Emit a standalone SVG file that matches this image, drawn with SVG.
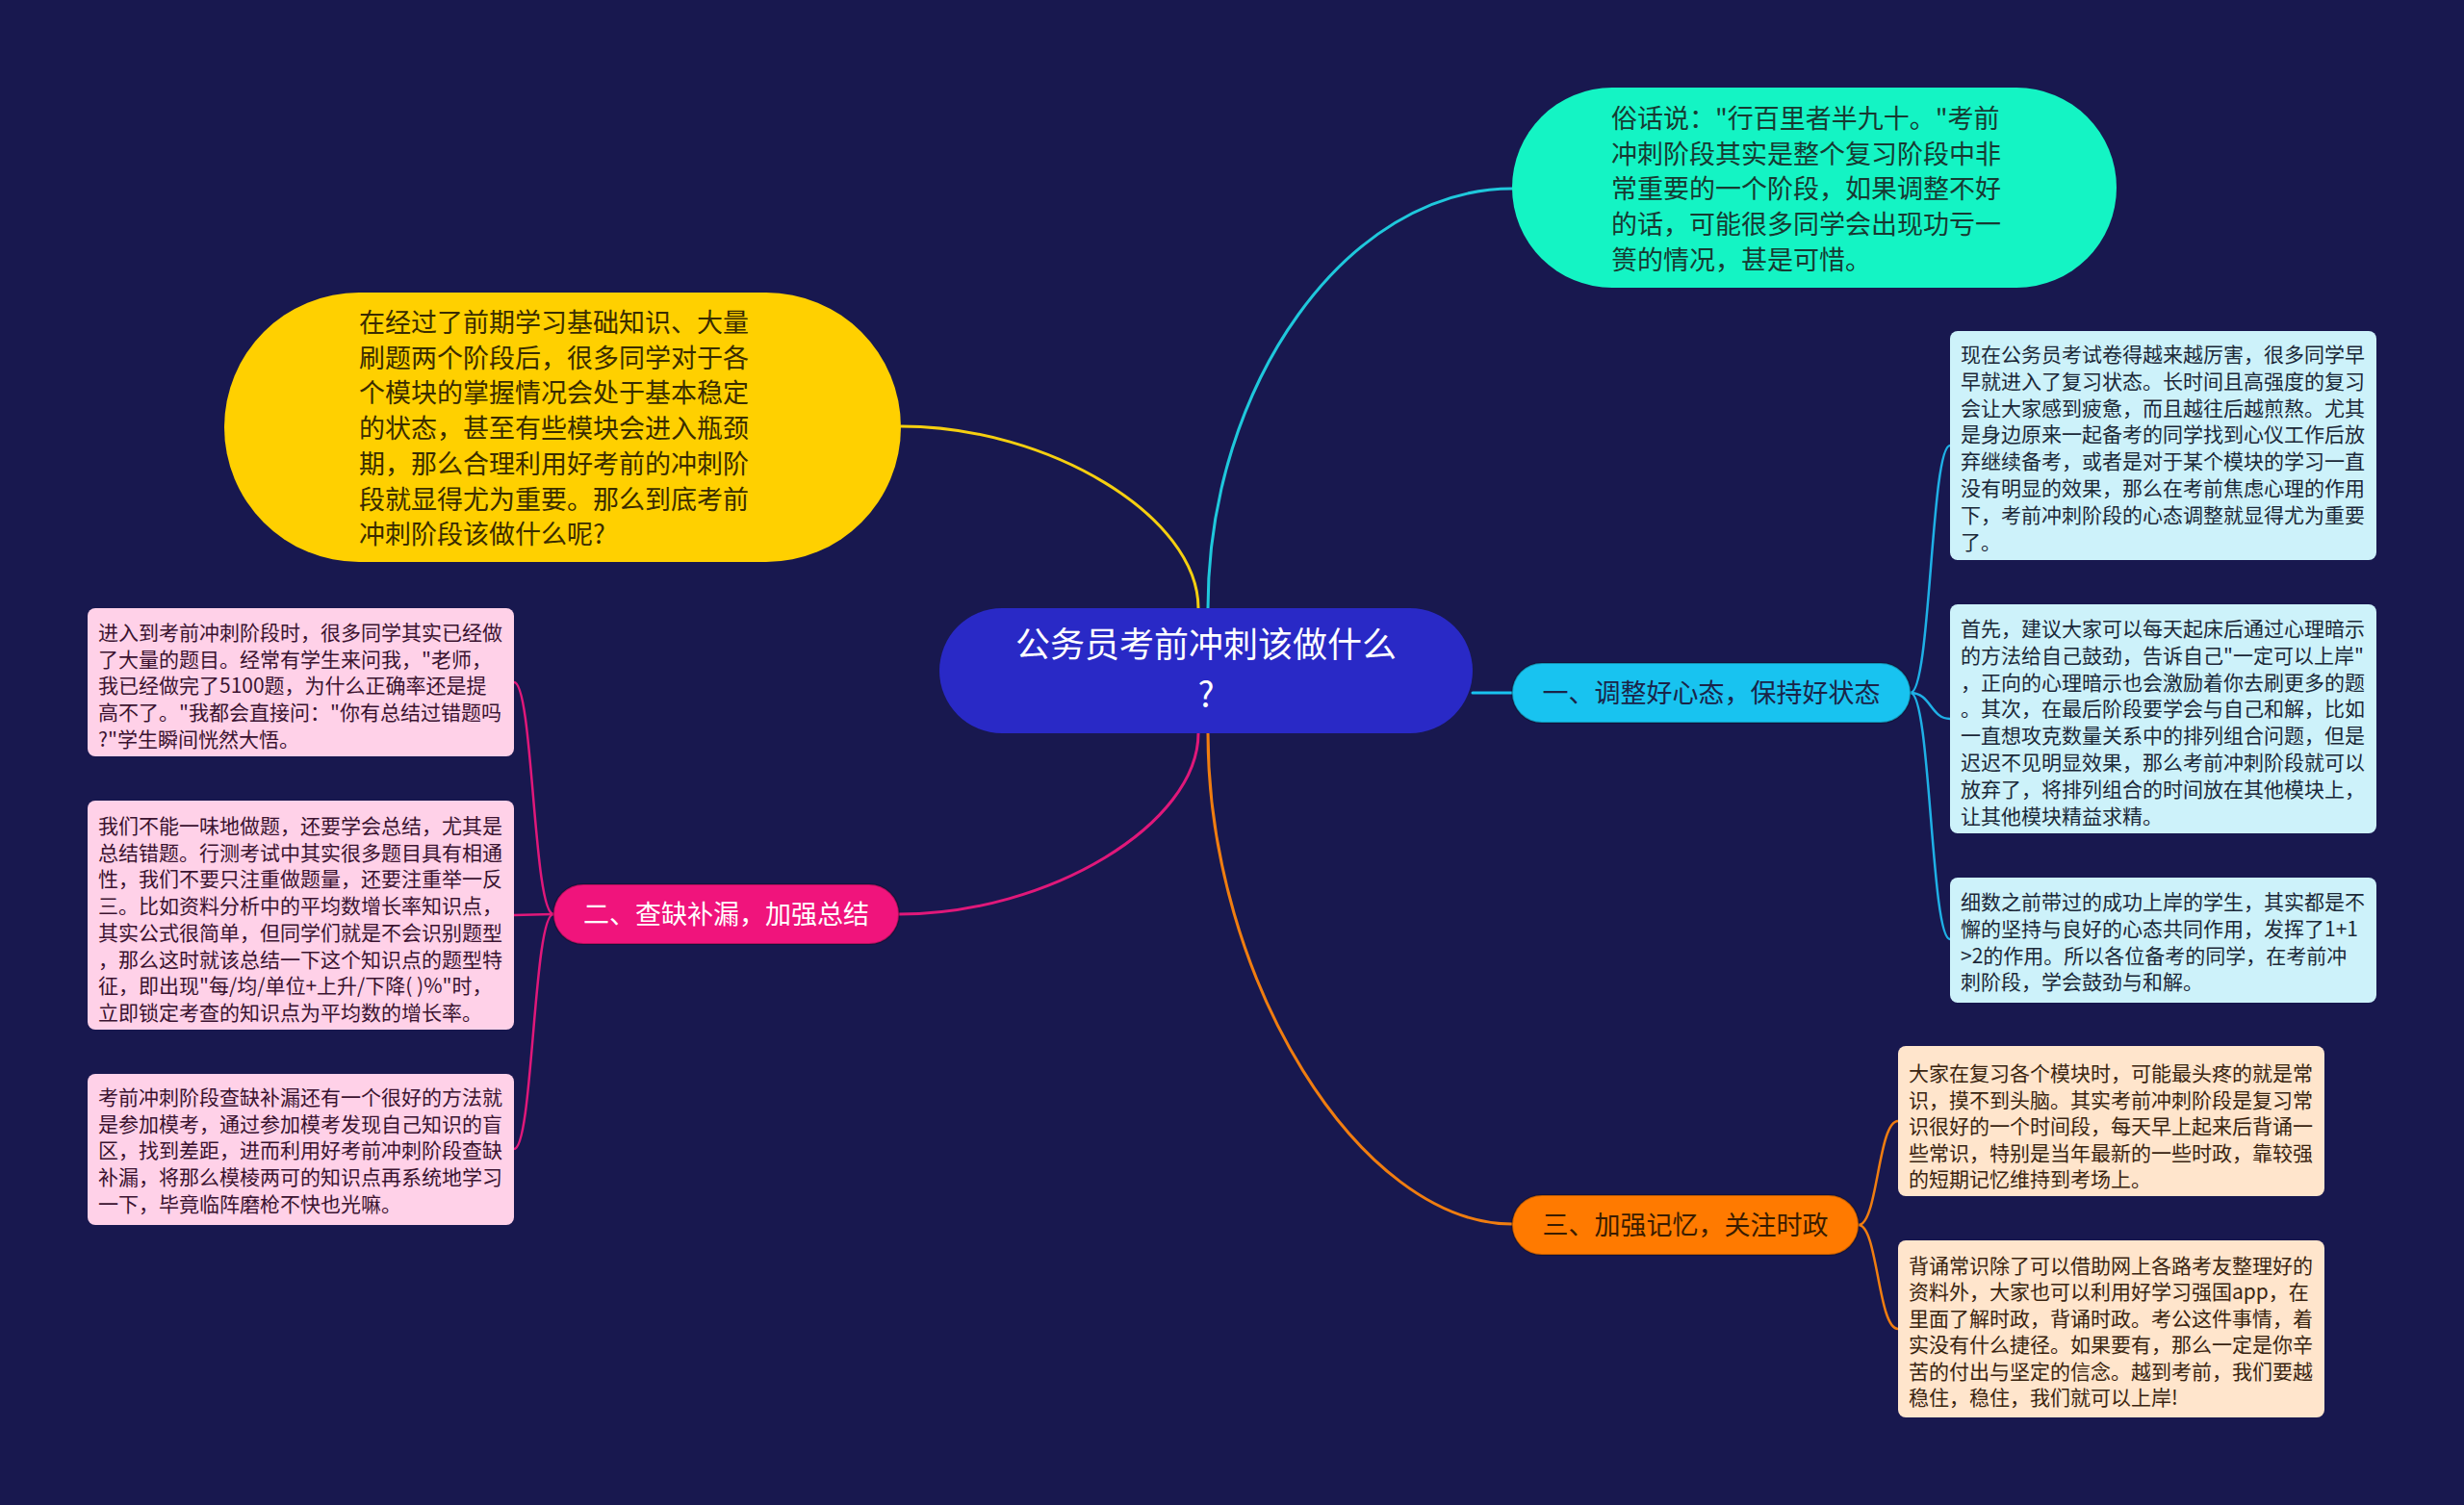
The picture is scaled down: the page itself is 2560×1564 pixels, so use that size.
<svg xmlns="http://www.w3.org/2000/svg" width="2560" height="1564" viewBox="0 0 2560 1564">
<style>
text{font-family:"Noto Sans CJK SC","Noto Sans",sans-serif;}
.conn{fill:none;stroke-linecap:round;}
.t27{font-size:27px;}
.t21{font-size:21px;}
.t36{font-size:36px;}
.lvl1{stroke:rgba(0,0,0,0.25);stroke-width:2;}
</style>
<rect x="0" y="0" width="2560" height="1564" fill="#18184f"/>
<g id="connectors">
  <path class="conn" d="M1245 632 C1245 537 1090 443 936 443" stroke="#f5cf10" stroke-width="3"/>
  <path class="conn" d="M1255 632 C1255 400 1400 196 1571 196" stroke="#1fc8dc" stroke-width="3"/>
  <path class="conn" d="M1530 720 L1571 720" stroke="#18c3f0" stroke-width="3"/>
  <path class="conn" d="M1245 762 C1245 856 1090 950 934 950" stroke="#e0187a" stroke-width="3"/>
  <path class="conn" d="M1255 762 C1255 1017 1413 1272 1571 1272" stroke="#f07d10" stroke-width="3"/>
  <path class="conn" d="M1985 720 C2006 720 2006 463 2026 463" stroke="#1fb0e6" stroke-width="2.5"/>
  <path class="conn" d="M1985 720 C2006 720 2006 747 2026 747" stroke="#1fb0e6" stroke-width="2.5"/>
  <path class="conn" d="M1985 720 C2006 720 2006 976 2026 976" stroke="#1fb0e6" stroke-width="2.5"/>
  <path class="conn" d="M575 950 C554 950 554 709 534 709" stroke="#e0187a" stroke-width="2.5"/>
  <path class="conn" d="M575 950 C554 950 554 951 534 951" stroke="#e0187a" stroke-width="2.5"/>
  <path class="conn" d="M575 950 C554 950 554 1194 534 1194" stroke="#e0187a" stroke-width="2.5"/>
  <path class="conn" d="M1931 1273 C1951 1273 1951 1165 1972 1165" stroke="#f07d10" stroke-width="2.5"/>
  <path class="conn" d="M1931 1273 C1951 1273 1951 1381 1972 1381" stroke="#f07d10" stroke-width="2.5"/>
</g>
<g id="root">
  <rect x="976" y="632" width="554" height="130" rx="65" fill="#2929c6"/>
  <text class="t36" fill="#ffffff" text-anchor="middle" x="1253" y="683">公务员考前冲刺该做什么</text>
  <text class="t36" fill="#ffffff" text-anchor="middle" x="1253" y="735">?</text>
</g>
<g id="intro-right">
  <rect x="1571" y="91" width="628" height="208" rx="104" fill="#14f4c4"/>
  <text class="t27" fill="#173a32"><tspan x="1674" y="133">俗话说："行百里者半九十。"考前</tspan><tspan x="1674" y="169.7">冲刺阶段其实是整个复习阶段中非</tspan><tspan x="1674" y="206.4">常重要的一个阶段，如果调整不好</tspan><tspan x="1674" y="243.1">的话，可能很多同学会出现功亏一</tspan><tspan x="1674" y="279.8">篑的情况，甚是可惜。</tspan></text>
</g>
<g id="intro-left">
  <rect x="233" y="304" width="703" height="280" rx="140" fill="#ffd000"/>
  <text class="t27" fill="#3a2c00"><tspan x="373" y="345">在经过了前期学习基础知识、大量</tspan><tspan x="373" y="381.7">刷题两个阶段后，很多同学对于各</tspan><tspan x="373" y="418.4">个模块的掌握情况会处于基本稳定</tspan><tspan x="373" y="455.1">的状态，甚至有些模块会进入瓶颈</tspan><tspan x="373" y="491.8">期，那么合理利用好考前的冲刺阶</tspan><tspan x="373" y="528.5">段就显得尤为重要。那么到底考前</tspan><tspan x="373" y="565.2">冲刺阶段该做什么呢?</tspan></text>
</g>
<g id="branch1">
  <rect class="lvl1" x="1571" y="689" width="414" height="62" rx="31" fill="#18c3f0"/>
  <text class="t27" fill="#1a2448" text-anchor="middle" x="1778" y="730">一、调整好心态，保持好状态</text>
</g>
<g id="branch2">
  <rect class="lvl1" x="575" y="919" width="359" height="62" rx="31" fill="#f0147c"/>
  <text class="t27" fill="#ffffff" text-anchor="middle" x="754.5" y="960">二、查缺补漏，加强总结</text>
</g>
<g id="branch3">
  <rect class="lvl1" x="1571" y="1242" width="360" height="62" rx="31" fill="#ff7a00"/>
  <text class="t27" fill="#3a1c00" text-anchor="middle" x="1751" y="1283">三、加强记忆，关注时政</text>
</g>
<g id="b1-leaf1">
  <rect x="2026" y="344" width="443" height="238" rx="8" fill="#cdf2fa"/>
  <text class="t21" fill="#1b2838"><tspan x="2037" y="376">现在公务员考试卷得越来越厉害，很多同学早</tspan><tspan x="2037" y="403.8">早就进入了复习状态。长时间且高强度的复习</tspan><tspan x="2037" y="431.6">会让大家感到疲惫，而且越往后越煎熬。尤其</tspan><tspan x="2037" y="459.4">是身边原来一起备考的同学找到心仪工作后放</tspan><tspan x="2037" y="487.2">弃继续备考，或者是对于某个模块的学习一直</tspan><tspan x="2037" y="515">没有明显的效果，那么在考前焦虑心理的作用</tspan><tspan x="2037" y="542.8">下，考前冲刺阶段的心态调整就显得尤为重要</tspan><tspan x="2037" y="570.6">了。</tspan></text>
</g>
<g id="b1-leaf2">
  <rect x="2026" y="628" width="443" height="238" rx="8" fill="#cdf2fa"/>
  <text class="t21" fill="#1b2838"><tspan x="2037" y="661">首先，建议大家可以每天起床后通过心理暗示</tspan><tspan x="2037" y="688.8">的方法给自己鼓劲，告诉自己"一定可以上岸"</tspan><tspan x="2037" y="716.6">，正向的心理暗示也会激励着你去刷更多的题</tspan><tspan x="2037" y="744.4">。其次，在最后阶段要学会与自己和解，比如</tspan><tspan x="2037" y="772.2">一直想攻克数量关系中的排列组合问题，但是</tspan><tspan x="2037" y="800">迟迟不见明显效果，那么考前冲刺阶段就可以</tspan><tspan x="2037" y="827.8">放弃了，将排列组合的时间放在其他模块上，</tspan><tspan x="2037" y="855.6">让其他模块精益求精。</tspan></text>
</g>
<g id="b1-leaf3">
  <rect x="2026" y="912" width="443" height="130" rx="8" fill="#cdf2fa"/>
  <text class="t21" fill="#1b2838"><tspan x="2037" y="945">细数之前带过的成功上岸的学生，其实都是不</tspan><tspan x="2037" y="972.8">懈的坚持与良好的心态共同作用，发挥了1+1</tspan><tspan x="2037" y="1000.6">&gt;2的作用。所以各位备考的同学，在考前冲</tspan><tspan x="2037" y="1028.4">刺阶段，学会鼓劲与和解。</tspan></text>
</g>
<g id="b2-leaf1">
  <rect x="91" y="632" width="443" height="154" rx="8" fill="#ffd1e8"/>
  <text class="t21" fill="#3b1330"><tspan x="102" y="665">进入到考前冲刺阶段时，很多同学其实已经做</tspan><tspan x="102" y="692.7">了大量的题目。经常有学生来问我，"老师，</tspan><tspan x="102" y="720.4">我已经做完了5100题，为什么正确率还是提</tspan><tspan x="102" y="748.1">高不了。"我都会直接问："你有总结过错题吗</tspan><tspan x="102" y="775.8">?"学生瞬间恍然大悟。</tspan></text>
</g>
<g id="b2-leaf2">
  <rect x="91" y="832" width="443" height="238" rx="8" fill="#ffd1e8"/>
  <text class="t21" fill="#3b1330"><tspan x="102" y="866">我们不能一味地做题，还要学会总结，尤其是</tspan><tspan x="102" y="893.7">总结错题。行测考试中其实很多题目具有相通</tspan><tspan x="102" y="921.4">性，我们不要只注重做题量，还要注重举一反</tspan><tspan x="102" y="949.1">三。比如资料分析中的平均数增长率知识点，</tspan><tspan x="102" y="976.8">其实公式很简单，但同学们就是不会识别题型</tspan><tspan x="102" y="1004.5">，那么这时就该总结一下这个知识点的题型特</tspan><tspan x="102" y="1032.2">征，即出现"每/均/单位+上升/下降( )%"时，</tspan><tspan x="102" y="1059.9">立即锁定考查的知识点为平均数的增长率。</tspan></text>
</g>
<g id="b2-leaf3">
  <rect x="91" y="1116" width="443" height="157" rx="8" fill="#ffd1e8"/>
  <text class="t21" fill="#3b1330"><tspan x="102" y="1148">考前冲刺阶段查缺补漏还有一个很好的方法就</tspan><tspan x="102" y="1175.7">是参加模考，通过参加模考发现自己知识的盲</tspan><tspan x="102" y="1203.4">区，找到差距，进而利用好考前冲刺阶段查缺</tspan><tspan x="102" y="1231.1">补漏，将那么模棱两可的知识点再系统地学习</tspan><tspan x="102" y="1258.8">一下，毕竟临阵磨枪不快也光嘛。</tspan></text>
</g>
<g id="b3-leaf1">
  <rect x="1972" y="1087" width="443" height="156" rx="8" fill="#ffe5cc"/>
  <text class="t21" fill="#3a2410"><tspan x="1983" y="1123">大家在复习各个模块时，可能最头疼的就是常</tspan><tspan x="1983" y="1150.5">识，摸不到头脑。其实考前冲刺阶段是复习常</tspan><tspan x="1983" y="1178">识很好的一个时间段，每天早上起来后背诵一</tspan><tspan x="1983" y="1205.5">些常识，特别是当年最新的一些时政，靠较强</tspan><tspan x="1983" y="1233">的短期记忆维持到考场上。</tspan></text>
</g>
<g id="b3-leaf2">
  <rect x="1972" y="1289" width="443" height="184" rx="8" fill="#ffe5cc"/>
  <text class="t21" fill="#3a2410"><tspan x="1983" y="1323">背诵常识除了可以借助网上各路考友整理好的</tspan><tspan x="1983" y="1350.4">资料外，大家也可以利用好学习强国app，在</tspan><tspan x="1983" y="1377.8">里面了解时政，背诵时政。考公这件事情，着</tspan><tspan x="1983" y="1405.2">实没有什么捷径。如果要有，那么一定是你辛</tspan><tspan x="1983" y="1432.6">苦的付出与坚定的信念。越到考前，我们要越</tspan><tspan x="1983" y="1460">稳住，稳住，我们就可以上岸!</tspan></text>
</g>
</svg>
